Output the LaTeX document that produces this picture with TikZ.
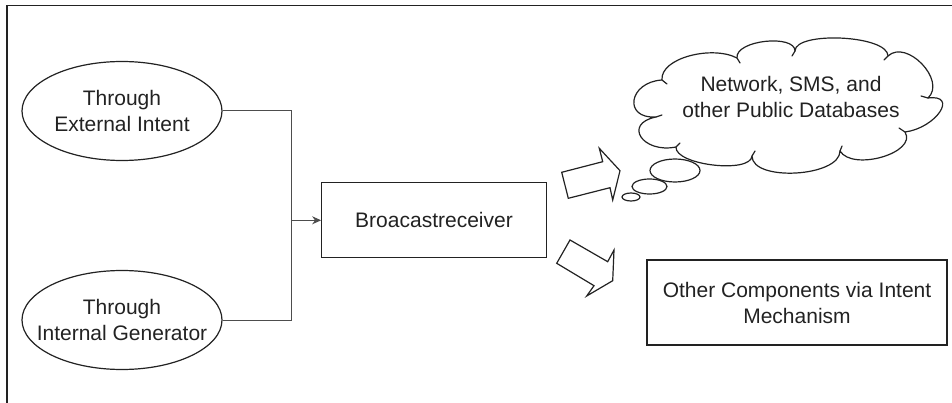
\documentclass[tikz,border=0pt]{standalone}
\usepackage{fontspec}
\setmainfont{Liberation Sans}
\usetikzlibrary{shapes.geometric,arrows.meta}
\definecolor{ink}{HTML}{222222}
\definecolor{wire}{HTML}{4d4d4d}
\begin{document}
\begin{tikzpicture}[x=1pt,y=-1pt,
  every node/.style={font=\fontsize{21}{26}\selectfont, text=ink, align=center},
  oval/.style={ellipse, draw=ink, line width=1.2pt, minimum width=200pt, minimum height=99pt, inner sep=0pt},
  panel/.style={rectangle, draw=ink, line width=1.2pt, inner sep=0pt},
  wire/.style={draw=wire, line width=1pt},
  outline/.style={draw=ink, line width=1.2pt, line join=miter},
  tick/.style={draw=ink, line width=1.2pt, line cap=round}
]
\useasboundingbox (0,0) rectangle (952,403);

% frame
\draw[ink, line width=1.5pt] (7,403) -- (7,5.7) -- (952,5.7);

% sources (fixed-size ovals, captions set separately)
\node[oval] (ext) at (122,111) {};
\node (extcap) at (ext.center) {Through\\External Intent};
\node[oval] (int) at (122,320) {};
\node (intcap) at (int.center) {Through\\Internal Generator};

% receiver and target
\node[panel, minimum width=224.5pt, minimum height=75pt] (recv) at (434,220.3) {Broacastreceiver};
\node[panel, minimum width=300pt, minimum height=85pt] (other) at (797,302.5) {Other Components via Intent\\Mechanism};

% merging connector
\coordinate (join) at (291,220.3);
\draw[wire] (ext.east) -| (join);
\draw[wire] (int.east) -| (join);
\draw[wire, -{Stealth[length=9pt,width=8pt]}] (join) -- (recv.west);

% cloud
\draw[outline, line join=round]
  (662,80)
  .. controls (660,58) and (712,45) .. (737,58)
  .. controls (735,40) and (795,34) .. (795,51)
  .. controls (795,31) and (888,35) .. (888,56)
  .. controls (906.7,38.7) and (946.7,80.7) .. (928,98)
  .. controls (959,94) and (936,128) .. (905,132)
  .. controls (917.7,152.7) and (852.7,171.7) .. (840,151)
  .. controls (840,177) and (752,182) .. (752,156)
  .. controls (750.7,174) and (674.7,165) .. (676,147)
  .. controls (642.7,153.7) and (622.7,123.7) .. (656,117)
  .. controls (622.7,119) and (628.7,82) .. (662,80)
  -- cycle;
% inner ends of the cloud lobes
\draw[tick] (662,80) -- (667,84);
\draw[tick] (737,58) -- (740,63);
\draw[tick] (795,51) -- (792,56);
\draw[tick] (888,56) -- (884,60);
\draw[tick] (928,98) -- (921,96);
\draw[tick] (905,132) -- (899,128);
\draw[tick] (840,151) -- (842,146);
\draw[tick] (752,156) -- (755,151);
\draw[tick] (676,147) -- (680,143);
\draw[tick] (656,117) -- (662,115);
\node (db) at (791,97) {Network, SMS, and\\other Public Databases};

% thought bubbles
\draw[outline] (675,170.5) ellipse [x radius=25pt, y radius=11.5pt];
\draw[outline] (649.5,186.5) ellipse [x radius=17.5pt, y radius=7.5pt];
\draw[outline] (631,197) ellipse [x radius=9pt, y radius=4pt];

% block arrows
\draw[outline] (561.7,172.3) -- (602.7,161.7) -- (599.3,148.3) -- (620,170.7)
  -- (612.7,200) -- (610,187.7) -- (568.3,198.3) -- cycle;
\draw[outline] (570,240) -- (607.7,261.7) -- (614,250) -- (612.7,280.7)
  -- (586.7,296) -- (594,285.7) -- (556.7,263.3) -- cycle;
\end{tikzpicture}
\end{document}
